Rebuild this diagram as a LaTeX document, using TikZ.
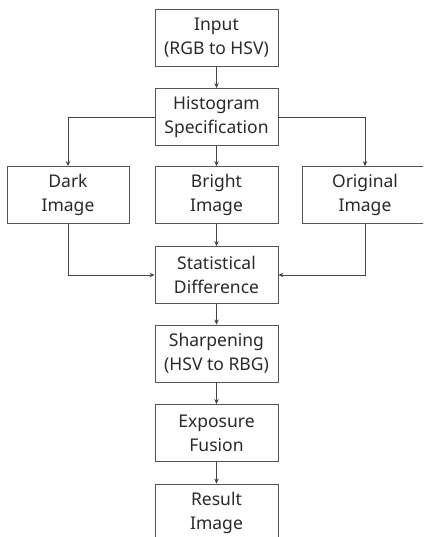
\documentclass[tikz,border=0pt]{standalone}
\usepackage{fontspec}
\setmainfont{Noto Sans}
\usepackage{xcolor}
\usetikzlibrary{arrows.meta}

\definecolor{boxline}{HTML}{555555}
\definecolor{boxtext}{HTML}{2A2A2A}

\tikzset{
    stagebox/.style={draw=boxline, line width=0.9pt, fill=white, text=boxtext,
        minimum width=123pt, minimum height=57pt, align=center, inner sep=0pt,
        font=\fontsize{17.5}{24}\selectfont},
    flow/.style={draw=boxline!80!black, line width=0.7pt, -{Stealth[length=5pt,width=4.5pt]}}
}

\begin{document}
\begin{tikzpicture}[x=1pt,y=1pt]
            \useasboundingbox (0,0) rectangle (423,-537);
            \begin{scope}
                \clip (0,0) rectangle (423,-537);

                \node[stagebox] (input) at (216.5,-37.5) {Input\\(RGB to HSV)};
                \node[stagebox] (histspec) at (216.5,-117) {Histogram\\Specification};

                \node[stagebox, minimum width=122pt] (dark) at (68,-195) {Dark\\Image};
                \node[stagebox] (bright) at (216.5,-195) {Bright\\Image};
                \node[stagebox, minimum width=126pt] (original) at (365,-195) {Original\\Image};

                \node[stagebox] (statdiff) at (216.5,-275) {Statistical\\Difference};
                \node[stagebox] (sharpen) at (216.5,-353.5) {Sharpening\\(HSV to RBG)};
                \node[stagebox] (exposure) at (216.5,-433) {Exposure\\Fusion};
                \node[stagebox] (result) at (216.5,-512.5) {Result\\Image};

                \draw[flow] (input) -- (histspec);
                \draw[flow] (histspec.west) -| (dark.north);
                \draw[flow] (histspec) -- (bright);
                \draw[flow] (histspec.east) -| (original.north);

                \draw[flow] (dark.south) |- (statdiff.west);
                \draw[flow] (bright) -- (statdiff);
                \draw[flow] (original.south) |- (statdiff.east);

                \draw[flow] (statdiff) -- (sharpen);
                \draw[flow] (sharpen) -- (exposure);
                \draw[flow] (exposure) -- (result);
            \end{scope}
        \end{tikzpicture}
\end{document}
